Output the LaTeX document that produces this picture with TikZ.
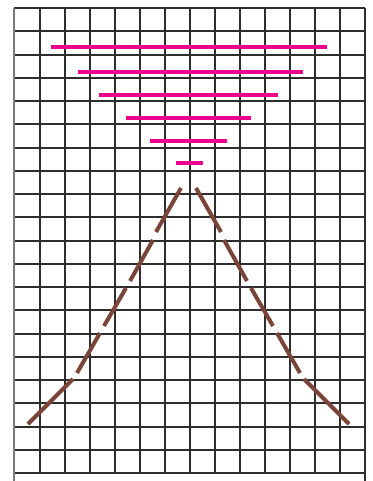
\documentclass[tikz,border=0pt]{standalone}
\definecolor{gridc}{RGB}{45,45,45}
\definecolor{edgec}{RGB}{120,120,120}
\definecolor{magc}{RGB}{236,0,140}
\definecolor{brownc}{RGB}{122,68,56}
\tikzset{
  gridline/.style={draw=gridc, line width=1.5pt},
  borderline/.style={draw=edgec, line width=1.8pt},
  magline/.style={draw=magc, line width=4pt},
  brownseg/.style={draw=brownc, line width=4pt}
}
\begin{document}
\begin{tikzpicture}[x=1pt,y=-1pt]
\useasboundingbox (0,0) rectangle (372,481);
\fill[white] (0,0) rectangle (372,481);
% vertical grid lines
\foreach \x in {40,65,...,340} {\draw[gridline] (\x,8) -- (\x,473);}
% horizontal grid lines
\foreach \k in {0,...,20} {\draw[gridline] (14,{round(8+\k*23.25)}) -- (365,{round(8+\k*23.25)});}
% borders extending to bottom
\draw[borderline] (14,8) -- (14,481);
\draw[gridline] (365,8) -- (365,481);
% magenta bars
\draw[magline] (51,47) -- (327,47);
\draw[magline] (78,72) -- (303,72);
\draw[magline] (99,95) -- (278,95);
\draw[magline] (126,118) -- (251,118);
\draw[magline] (150,141) -- (227,141);
\draw[magline] (176,163) -- (203,163);
% right dashed line
\draw[brownseg] (196,188) -- (221,232);
\draw[brownseg] (224,240) -- (247,281);
\draw[brownseg] (251,288) -- (273,326);
\draw[brownseg] (277,333) -- (300,373);
\draw[brownseg] (304,379) -- (349,424);
% left dashed line
\draw[brownseg] (181,188) -- (156,232);
\draw[brownseg] (153,240) -- (130,281);
\draw[brownseg] (126,288) -- (104,326);
\draw[brownseg] (100,333) -- (77,373);
\draw[brownseg] (73,379) -- (28,424);
\end{tikzpicture}
\end{document}
